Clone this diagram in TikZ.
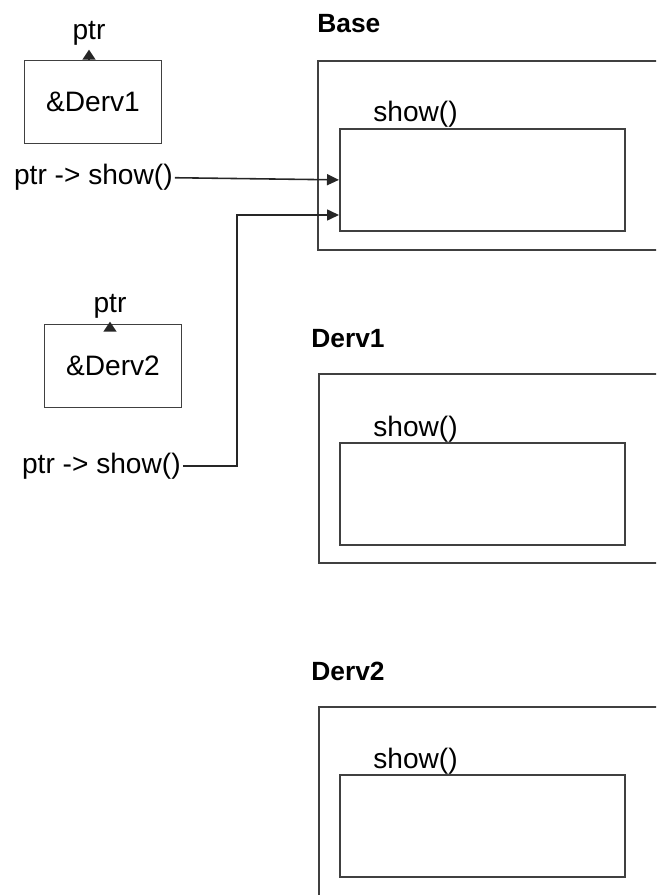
\documentclass[tikz,border=0pt]{standalone}
\usepackage{fontspec}
\setmainfont{Liberation Sans}
\usetikzlibrary{arrows.meta}

\tikzset{
    ptrbox/.style={draw=black!75, line width=0.9pt, minimum width=2.74cm, minimum height=1.66cm},
    objbox/.style={draw=black!75, line width=0.9pt, minimum width=7.06cm, minimum height=3.78cm, anchor=north west},
    fnbox/.style={draw=black!75, line width=1pt, minimum width=5.7cm, minimum height=2.04cm, anchor=north west},
    objtitle/.style={font=\bfseries\fontsize{15}{18}\selectfont, anchor=base west, inner sep=0pt},
    fnlabel/.style={anchor=base west, inner sep=0pt},
    ptrlabel/.style={anchor=base, inner sep=2pt},
    calltext/.style={anchor=base west, inner sep=1pt},
    ptrtip/.style={draw=black!85, line width=0.9pt, -{Triangle[length=0.2cm,width=0.26cm]}},
    callarrow/.style={draw=black!85, line width=0.9pt, -{Triangle[length=0.24cm,width=0.22cm]}}
}

\begin{document}
\begin{tikzpicture}[x=0.02cm, y=-0.02cm, every node/.style={font=\fontsize{16}{19}\selectfont}]
    \useasboundingbox (0,0) rectangle (656,895);
    \clip (0,0) rectangle (656,895);

    % Objects
    \node[objtitle] (basetitle) at (317,33) {Base};
    \node[objbox] (baseobj) at (317,60) {};
    \node[fnbox] (baseshow) at (339,128) {};
    \node[fnlabel] (baseshowtxt) at (373,122) {show()};

    \node[objtitle] (dervonetitle) at (311,347) {Derv1};
    \node[objbox] (dervoneobj) at (318,373) {};
    \node[fnbox] (dervoneshow) at (339,442) {};
    \node[fnlabel] (dervoneshowtxt) at (373,436) {show()};

    \node[objtitle] (dervtwotitle) at (311,680) {Derv2};
    \node[objbox] (dervtwoobj) at (318,706) {};
    \node[fnbox] (dervtwoshow) at (339,774) {};
    \node[fnlabel] (dervtwoshowtxt) at (373,768) {show()};

    % Pointers
    \node[ptrbox] (adrone) at (93,102) {\&Derv1};
    \node[ptrlabel] (ptrone) at (89,40) {ptr};
    \draw[ptrtip] (ptrone.south |- adrone.north) -- (ptrone.south);

    \node[ptrbox] (adrtwo) at (113,366) {\&Derv2};
    \node[ptrlabel] (ptrtwo) at (110,312) {ptr};
    \draw[ptrtip] (ptrtwo.south |- adrtwo.north) -- (ptrtwo.south);

    % Calls
    \node[calltext] (callone) at (12,185) {ptr -> show()};
    \draw[callarrow] (callone.east) -- (baseshow.west);

    \node[calltext] (calltwo) at (20,473) {ptr -> show()};
    \coordinate (entrytwo) at (339,215);
    \draw[callarrow] (calltwo.east) -- ++(54,0) |- (entrytwo);
\end{tikzpicture}
\end{document}
